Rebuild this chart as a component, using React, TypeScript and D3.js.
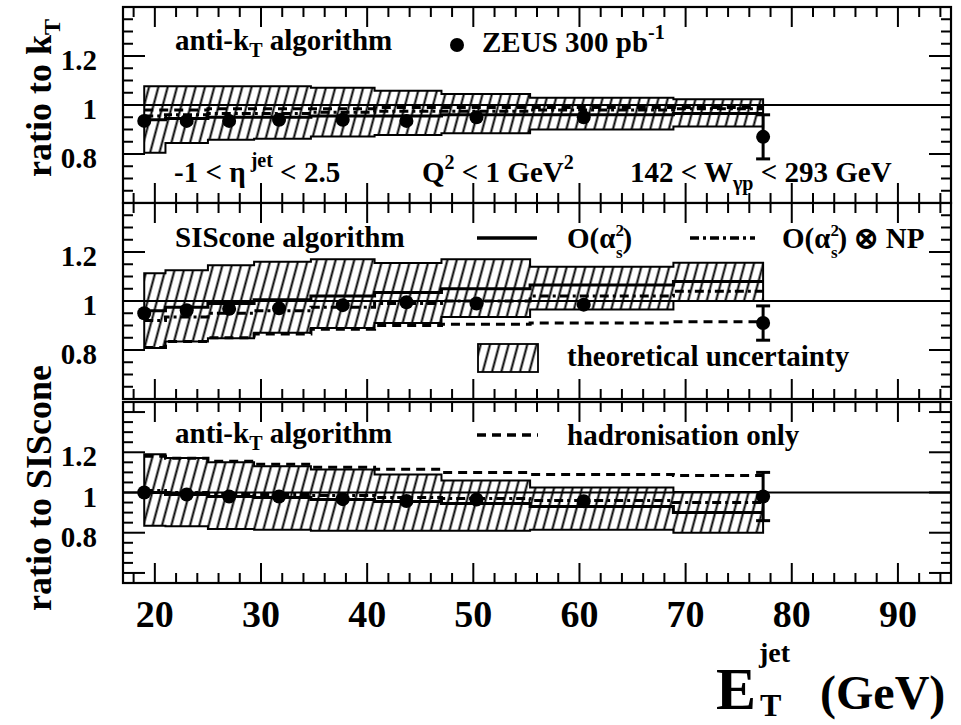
import React from 'react';
import * as d3 from 'd3';

// Mean jet transverse energy of each bin (GeV)
const ET = [19.0, 23.0, 27.0, 31.7, 37.7, 43.7, 50.3, 60.4, 77.3];

// Panel 1: anti-kT / kT
const data1 = [0.935, 0.935, 0.935, 0.94, 0.94, 0.935, 0.95, 0.95, 0.87];
const err1 = [0.012, 0.012, 0.012, 0.012, 0.015, 0.015, 0.02, 0.025, 0.09];
const hi1 = [1.077, 1.077, 1.077, 1.077, 1.07, 1.058, 1.045, 1.03, 1.023];
const lo1 = [0.805, 0.845, 0.858, 0.862, 0.871, 0.878, 0.885, 0.9, 0.912];
const nlo1 = [0.94, 0.945, 0.95, 0.95, 0.955, 0.955, 0.96, 0.96, 0.965];
const np1 = [0.955, 0.96, 0.965, 0.965, 0.97, 0.975, 0.975, 0.98, 0.985];
const had1 = [0.98, 0.98, 0.985, 0.985, 0.985, 0.99, 0.99, 0.99, 0.99];

// Panel 2: SIScone / kT
const data2 = [0.95, 0.962, 0.968, 0.97, 0.983, 0.995, 0.99, 0.985, 0.91];
const err2 = [0.012, 0.012, 0.012, 0.012, 0.015, 0.015, 0.02, 0.025, 0.07];
const hi2 = [1.113, 1.126, 1.146, 1.16, 1.17, 1.155, 1.17, 1.14, 1.156];
const lo2 = [0.808, 0.835, 0.848, 0.87, 0.89, 0.91, 0.935, 0.965, 1.0];
const nlo2 = [0.96, 0.975, 0.99, 1.005, 1.02, 1.035, 1.05, 1.065, 1.08];
const np2 = [0.92, 0.935, 0.95, 0.96, 0.975, 0.99, 1.0, 1.02, 1.04];
const had2 = [0.81, 0.835, 0.85, 0.865, 0.885, 0.9, 0.905, 0.91, 0.915];

// Panel 3: anti-kT / SIScone
const data3 = [1.0, 0.99, 0.98, 0.98, 0.967, 0.958, 0.965, 0.957, 0.98];
const err3 = [0.012, 0.012, 0.012, 0.012, 0.015, 0.015, 0.02, 0.025, 0.12];
const hi3 = [1.19, 1.172, 1.15, 1.131, 1.114, 1.09, 1.06, 1.025, 1.003];
const lo3 = [0.835, 0.832, 0.818, 0.815, 0.81, 0.81, 0.81, 0.815, 0.8];
const nlo3 = [1.0, 0.99, 0.98, 0.975, 0.965, 0.955, 0.945, 0.93, 0.9];
const np3 = [1.01, 1.0, 0.995, 0.99, 0.985, 0.975, 0.97, 0.96, 0.95];
const had3 = [1.18, 1.17, 1.155, 1.14, 1.125, 1.115, 1.1, 1.09, 1.085];

const X_DOMAIN = [17, 95];
const X_LABELS = [20, 30, 40, 50, 60, 70, 80, 90];
const Y_LABELS = [0.8, 1, 1.2];

const FONT = "'Liberation Serif', 'Times New Roman', serif";

const W = 961;
const H = 725;
const LEFT = 123;
const RIGHT = 951;

type Panel = {
  top: number;
  bottom: number;
  domain: [number, number];
  data: number[];
  err: number[];
  hi: number[];
  lo: number[];
  nlo: number[];
  np: number[];
  had: number[];
};

const panels: Panel[] = [
  { top: 7, bottom: 203, domain: [0.6, 1.4], data: data1, err: err1, hi: hi1, lo: lo1, nlo: nlo1, np: np1, had: had1 },
  { top: 203, bottom: 399, domain: [0.6, 1.4], data: data2, err: err2, hi: hi2, lo: lo2, nlo: nlo2, np: np2, had: had2 },
  { top: 402, bottom: 583, domain: [0.55, 1.45], data: data3, err: err3, hi: hi3, lo: lo3, nlo: nlo3, np: np3, had: had3 },
];

// bin edges for the step curves: from the first to the last point, breaking half way between points
const edges = [ET[0], ...d3.pairs(ET).map(([a, b]) => (a + b) / 2), ET[ET.length - 1]];
const stepPts = (vals: number[]) => edges.map((e, i) => [e, vals[Math.min(i, vals.length - 1)]] as [number, number]);

export default function App() {
  const x = d3.scaleLinear().domain(X_DOMAIN).range([LEFT, RIGHT]);
  const xMinor = d3.range(18, 95, 2);

  const renderPanel = (p: Panel, pi: number) => {
    const y = d3.scaleLinear().domain(p.domain).range([p.bottom, p.top]);
    const line = d3
      .line<[number, number]>()
      .x((d) => x(d[0]))
      .y((d) => y(d[1]))
      .curve(d3.curveStepAfter);
    const area = d3
      .area<[number, number, number]>()
      .x((d) => x(d[0]))
      .y0((d) => y(d[1]))
      .y1((d) => y(d[2]))
      .curve(d3.curveStepAfter);
    const bandPts = edges.map((e, i) => {
      const k = Math.min(i, p.lo.length - 1);
      return [e, p.lo[k], p.hi[k]] as [number, number, number];
    });
    const yStart = Math.ceil(p.domain[0] / 0.05 - 1e-6);
    const yEnd = Math.floor(p.domain[1] / 0.05 + 1e-6);
    const yTicks = d3.range(yStart, yEnd + 1).map((k) => +(k * 0.05).toFixed(2));
    const isMajorY = (v: number) => Math.abs(v / 0.2 - Math.round(v / 0.2)) < 1e-6;

    return (
      <g key={pi}>
        <rect x={LEFT} y={p.top} width={RIGHT - LEFT} height={p.bottom - p.top} fill="white" stroke="none" />
        {/* unit line */}
        <line x1={LEFT} x2={RIGHT} y1={y(1)} y2={y(1)} stroke="black" strokeWidth={1.8} />
        {/* theoretical uncertainty band */}
        <path d={area(bandPts) || ''} fill="url(#hatch)" stroke="black" strokeWidth={2} />
        {/* predictions */}
        <path d={line(stepPts(p.had)) || ''} fill="none" stroke="black" strokeWidth={3} strokeDasharray="9,6" />
        <path d={line(stepPts(p.np)) || ''} fill="none" stroke="black" strokeWidth={3} strokeDasharray="9,4,3,4" />
        <path d={line(stepPts(p.nlo)) || ''} fill="none" stroke="black" strokeWidth={3} />
        {/* data */}
        {p.data.map((v, i) => (
          <g key={i}>
            <line x1={x(ET[i])} x2={x(ET[i])} y1={y(v - p.err[i])} y2={y(v + p.err[i])} stroke="black" strokeWidth={3} />
            {p.err[i] > 0.03 && (
              <>
                <line x1={x(ET[i]) - 7} x2={x(ET[i]) + 7} y1={y(v - p.err[i])} y2={y(v - p.err[i])} stroke="black" strokeWidth={3} />
                <line x1={x(ET[i]) - 7} x2={x(ET[i]) + 7} y1={y(v + p.err[i])} y2={y(v + p.err[i])} stroke="black" strokeWidth={3} />
              </>
            )}
            <circle cx={x(ET[i])} cy={y(v)} r={7} fill="black" />
          </g>
        ))}
        {/* x ticks, top and bottom */}
        {xMinor.map((t) => {
          const len = t % 10 === 0 ? 20 : 10;
          return (
            <g key={'x' + t}>
              <line x1={x(t)} x2={x(t)} y1={p.top} y2={p.top + len} stroke="black" strokeWidth={2} />
              <line x1={x(t)} x2={x(t)} y1={p.bottom} y2={p.bottom - len} stroke="black" strokeWidth={2} />
            </g>
          );
        })}
        {/* y ticks, left and right */}
        {yTicks.map((t) => {
          const len = isMajorY(t) ? 22 : 10;
          return (
            <g key={'y' + t}>
              <line x1={LEFT} x2={LEFT + len} y1={y(t)} y2={y(t)} stroke="black" strokeWidth={2} />
              <line x1={RIGHT} x2={RIGHT - len} y1={y(t)} y2={y(t)} stroke="black" strokeWidth={2} />
            </g>
          );
        })}
        {Y_LABELS.map((t) => (
          <text key={'yl' + t} x={97} y={y(t) + 14} textAnchor="end" fontSize={29} fontWeight="bold">
            {t === 1 ? '1' : t.toFixed(1)}
          </text>
        ))}
        <rect x={LEFT} y={p.top} width={RIGHT - LEFT} height={p.bottom - p.top} fill="none" stroke="black" strokeWidth={2.2} />
      </g>
    );
  };

  const fs = 29;
  const sub = 20;

  return (
    <svg
      width={W}
      height={H}
      viewBox={`0 0 ${W} ${H}`}
      style={{ position: 'absolute', left: 0, top: 0, background: 'white' }}
      fontFamily={FONT}
    >
      <defs>
        <pattern id="hatch" width={9} height={9} patternUnits="userSpaceOnUse" patternTransform="rotate(15)">
          <line x1={4.5} y1={0} x2={4.5} y2={9} stroke="black" strokeWidth={2} />
        </pattern>
      </defs>
      <rect x={0} y={0} width={W} height={H} fill="white" />
      {panels.map(renderPanel)}

      {/* panel 1 annotations */}
      <g fontWeight="bold" fontSize={fs}>
        <text x={175} y={50}>
          anti-k<tspan dy={7} fontSize={sub}>T</tspan>
          <tspan dy={-7}> algorithm</tspan>
        </text>
        <circle cx={457} cy={45} r={7} fill="black" />
        <text x={482} y={52}>
          ZEUS 300 pb<tspan dy={-13} fontSize={sub}>-1</tspan>
        </text>
        <text x={174} y={182}>
          -1 &lt; η<tspan dy={-15} fontSize={sub}> jet</tspan>
          <tspan dy={15}> &lt; 2.5</tspan>
        </text>
        <text x={422} y={182}>
          Q<tspan dy={-13} fontSize={sub}>2</tspan>
          <tspan dy={13}> &lt; 1 GeV</tspan>
          <tspan dy={-13} fontSize={sub}>2</tspan>
        </text>
        <text x={630} y={182}>
          142 &lt; W<tspan dy={8} fontSize={sub}>γp</tspan>
          <tspan dy={-8}> &lt; 293 GeV</tspan>
        </text>
      </g>

      {/* panel 2 annotations */}
      <g fontWeight="bold" fontSize={fs}>
        <text x={175} y={247}>SIScone algorithm</text>
        <line x1={477} x2={537} y1={238} y2={238} stroke="black" strokeWidth={3.5} />
        <text x={567} y={248}>
          O(α<tspan dy={-12} fontSize={17}>2</tspan>
          <tspan dx={-8} dy={22} fontSize={17}>s</tspan>
          <tspan dy={-10}>)</tspan>
        </text>
        <line x1={690} x2={755} y1={238} y2={238} stroke="black" strokeWidth={3.5} strokeDasharray="9,4,3,4" />
        <text x={782} y={248}>
          O(α<tspan dy={-12} fontSize={17}>2</tspan>
          <tspan dx={-8} dy={22} fontSize={17}>s</tspan>
          <tspan dy={-10}>) ⊗ NP</tspan>
        </text>
        <rect x={478} y={344} width={60} height={28} fill="url(#hatch)" stroke="black" strokeWidth={1.8} />
        <text x={567} y={366}>theoretical uncertainty</text>
      </g>

      {/* panel 3 annotations */}
      <g fontWeight="bold" fontSize={fs}>
        <text x={175} y={443}>
          anti-k<tspan dy={7} fontSize={sub}>T</tspan>
          <tspan dy={-7}> algorithm</tspan>
        </text>
        <line x1={477} x2={538} y1={435} y2={435} stroke="black" strokeWidth={3.5} strokeDasharray="9,6" />
        <text x={567} y={445}>hadronisation only</text>
      </g>

      {/* x axis labels */}
      {X_LABELS.map((t) => (
        <text key={'xl' + t} x={x(t)} y={627} textAnchor="middle" fontSize={38} fontWeight="bold">
          {t}
        </text>
      ))}
      <g fontWeight="bold">
        <text x={716} y={709} fontSize={60}>E</text>
        <text x={759} y={662} fontSize={28}>jet</text>
        <text x={760} y={716} fontSize={32}>T</text>
        <text x={820} y={709} fontSize={48}>(GeV)</text>
      </g>

      {/* y axis titles */}
      <g fontWeight="bold" fontSize={36}>
        <text transform="translate(51,98) rotate(-90)" textAnchor="middle">
          ratio to k<tspan dy={9} fontSize={24}>T</tspan>
        </text>
        <text transform="translate(51,488) rotate(-90)" textAnchor="middle">
          ratio to SIScone
        </text>
      </g>
    </svg>
  );
}
